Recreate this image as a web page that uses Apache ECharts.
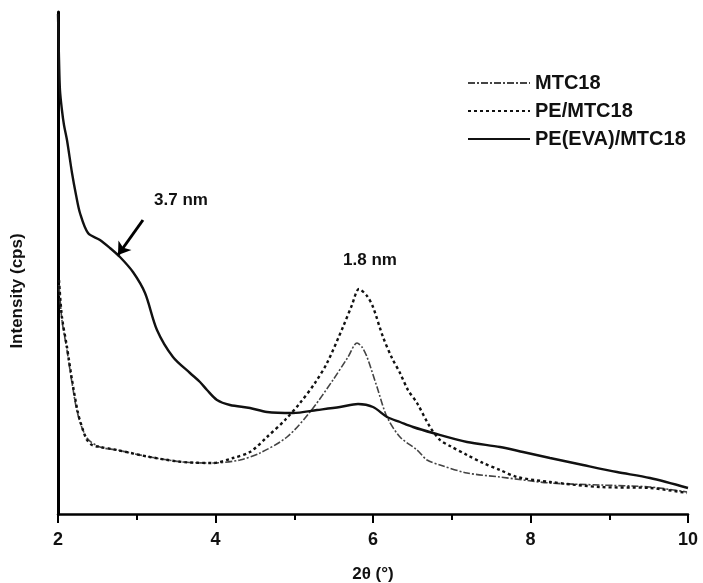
<!DOCTYPE html>
<html>
<head>
<meta charset="utf-8">
<script src="https://cdn.jsdelivr.net/npm/echarts@6/dist/echarts.min.js"></script>
<style>html,body{margin:0;padding:0;background:#fff;}#c{width:703px;height:583px;}</style>
</head>
<body>
<div id="c"></div>
<script>
// Series names
const seriesNames = ['MTC18', 'PE/MTC18', 'PE(EVA)/MTC18'];
// x ticks
const xTicks = [2, 4, 6, 8, 10];

// MTC18 (dash-dot)
const mtc18X = [2.013,2.05,2.114,2.178,2.254,2.368,2.533,2.749,3.168,3.587,3.968,4.311,4.565,4.908,5.2,5.492,5.683,5.797,5.86,5.924,6.051,6.178,6.343,6.559,6.686,6.851,7.194,7.613,8.248,8.883,9.517,9.987];
const mtc18Y = [229,194,164,131,99,76,67,64,57,52,51,54,61,77,102,134,157,171,167,157,127,97,77,64,54,49,41,37,31,29,27,22];

// PE/MTC18 (dotted)
const peX = [2.013,2.05,2.114,2.178,2.254,2.317,2.368,2.432,2.533,2.749,3.168,3.587,3.968,4.222,4.438,4.654,4.883,5.073,5.263,5.416,5.619,5.733,5.822,5.924,6.0,6.127,6.241,6.343,6.444,6.559,6.724,6.851,6.978,7.194,7.397,7.613,7.829,8.248,8.883,9.517,9.987];
const peY = [234,197,167,134,101,84,74,69,67,64,57,52,51,56,62,77,94,111,131,151,187,209,225,218,207,177,156,141,124,111,87,74,68,59,51,44,37,32,27,26,21];

// PE(EVA)/MTC18 (solid)
const evaX = [2.0,2.013,2.025,2.05,2.076,2.114,2.178,2.229,2.279,2.381,2.533,2.66,2.787,2.952,3.105,3.257,3.46,3.676,3.803,3.892,4.019,4.184,4.438,4.654,4.984,5.289,5.581,5.81,6.0,6.178,6.343,6.508,6.762,7.194,7.613,7.905,8.248,8.667,9.098,9.517,10.0];
const evaY = [500,454,424,404,389,374,341,319,301,281,274,266,257,242,221,184,157,141,132,124,114,109,106,102,101,104,107,110,107,97,92,87,81,72,67,62,56,49,42,36,26];

// Annotations
const annoTexts = ['3.7 nm', '1.8 nm'];
const annoPos = [[3.562, 314], [5.962, 254]];
const arrowFrom = [3.079, 294];
const arrowTo = [2.762, 259];

const zip = (xs, ys) => xs.map((x, i) => [x, ys[i]]);
const FONT = '"Liberation Sans", Arial, sans-serif';

const chart = echarts.init(document.getElementById('c'));
chart.setOption({
  backgroundColor: '#fff',
  animation: false,
  grid: { left: 58, right: 15, top: 12, bottom: 69, outerBoundsMode: 'none', containLabel: false },
  legend: {
    orient: 'vertical',
    left: 467,
    top: 73,
    padding: 0,
    itemWidth: 62,
    itemHeight: 14,
    itemGap: 8,
    data: seriesNames,
    itemStyle: { opacity: 0 },
    textStyle: { fontFamily: FONT, fontSize: 20, fontWeight: 'bold', color: '#111' }
  },
  xAxis: {
    type: 'value',
    min: 2, max: 10, interval: 2,
    name: '2θ (°)',
    nameLocation: 'middle',
    nameGap: 52,
    nameTextStyle: { fontFamily: FONT, fontSize: 17, fontWeight: 'bold', color: '#111' },
    axisLine: { show: true, lineStyle: { color: '#000', width: 2.5 } },
    axisTick: { show: true, inside: false, length: 9, lineStyle: { color: '#000', width: 2 } },
    minorTick: { show: true, splitNumber: 2, length: 6, lineStyle: { color: '#000', width: 2 } },
    axisLabel: { margin: 17, fontFamily: FONT, fontSize: 18, fontWeight: 'bold', color: '#111',
      formatter: v => xTicks.includes(v) ? String(v) : '' },
    splitLine: { show: false }
  },
  yAxis: {
    type: 'value',
    min: 0, max: 502,
    name: 'Intensity (cps)',
    nameLocation: 'middle',
    nameGap: 32,
    nameTextStyle: { fontFamily: FONT, fontSize: 17, fontWeight: 'bold', color: '#111', padding: [0, 56, 0, 0] },
    axisLine: { show: true, lineStyle: { color: '#000', width: 3 } },
    axisTick: { show: false },
    axisLabel: { show: false },
    splitLine: { show: false }
  },
  series: [
    {
      name: seriesNames[0], type: 'line', data: zip(mtc18X, mtc18Y),
      showSymbol: false, symbol: 'none', smooth: 0.3,
      lineStyle: { color: '#444', width: 1.6, type: [7, 2, 2, 2] },
      itemStyle: { color: '#444' }
    },
    {
      name: seriesNames[1], type: 'line', data: zip(peX, peY),
      showSymbol: false, symbol: 'none', smooth: 0.3,
      lineStyle: { color: '#111', width: 2.4, type: [3, 3] },
      itemStyle: { color: '#111' }
    },
    {
      name: seriesNames[2], type: 'line', data: zip(evaX, evaY),
      showSymbol: false, symbol: 'none', smooth: 0.3,
      lineStyle: { color: '#111', width: 2.4, type: 'solid' },
      itemStyle: { color: '#111' },
      markLine: {
        silent: true,
        symbol: ['none', 'arrow'],
        symbolSize: 12,
        label: { show: false },
        lineStyle: { color: '#000', width: 3, type: 'solid' },
        data: [[{ coord: arrowFrom }, { coord: arrowTo }]]
      },
      markPoint: {
        silent: true,
        symbol: 'circle', symbolSize: 0,
        label: {
          show: true, position: 'inside',
          fontFamily: FONT, fontSize: 17, fontWeight: 'bold', color: '#111',
          formatter: p => p.name
        },
        data: annoTexts.map((t, i) => ({ name: t, coord: annoPos[i], value: t }))
      }
    }
  ]
});
</script>
</body>
</html>
